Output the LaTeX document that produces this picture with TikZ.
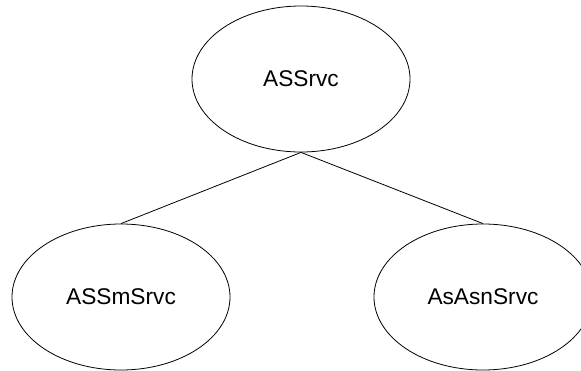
\documentclass[tikz,border=0pt]{standalone}
\usepackage{fontspec}
\setmainfont{Liberation Sans}
\usetikzlibrary{shapes.geometric}
\begin{document}
\begin{tikzpicture}[x=1pt,y=-1pt,
  svc/.style={draw, ellipse, line width=0.8pt, minimum width=218pt, minimum height=146pt,
    inner sep=0pt, font=\fontsize{22.7}{26}\selectfont},
  link/.style={line width=0.8pt}]
  \useasboundingbox (0,0) rectangle (581,370);
  \node[svc] (root) at (301,79) {ASSrvc};
  \node[svc] (sm) at (121,297) {ASSmSrvc};
  \node[svc] (asn) at (483,297) {AsAsnSrvc};
  \draw[link] (root.south) -- (sm.north);
  \draw[link] (root.south) -- (asn.north);
\end{tikzpicture}
\end{document}
